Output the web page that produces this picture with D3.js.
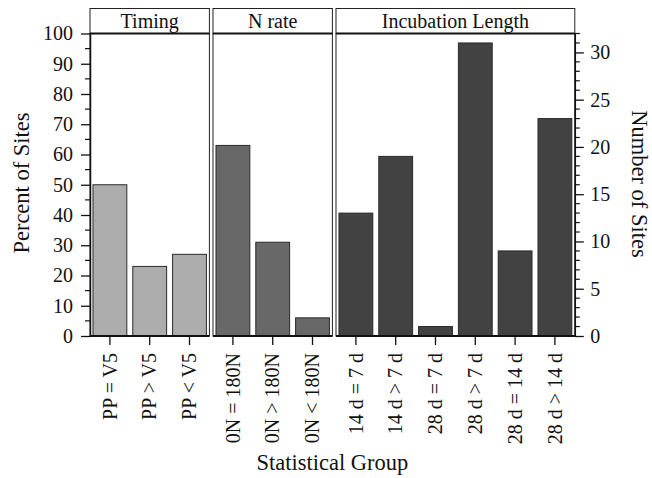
<!DOCTYPE html>
<html>
<head>
<meta charset="utf-8">
<script src="https://cdn.jsdelivr.net/npm/d3@7"></script>
<style>
  body { margin: 0; background: #fff; }
  svg text { font-family: "Liberation Serif", "Times New Roman", serif; fill: #111; }
</style>
</head>
<body>
<div id="chart"></div>
<script>
// panel names and their categories
var panels = ["Timing", "N rate", "Incubation Length"];
var timingCats = ["PP = V5", "PP > V5", "PP < V5"];
var nrateCats = ["0N = 180N", "0N > 180N", "0N < 180N"];
var incubCats = ["14 d = 7 d", "14 d > 7 d", "28 d = 7 d", "28 d > 7 d", "28 d = 14 d", "28 d > 14 d"];
// values: percent of sites for Timing / N rate, number of sites for incubation
var timingPct = [50, 23, 27];
var nratePct = [63, 31, 6];
var incubCount = [13, 19, 1, 31, 9, 23];
var leftTicks = [0, 10, 20, 30, 40, 50, 60, 70, 80, 90, 100];
var rightTicks = [0, 5, 10, 15, 20, 25, 30];

var width = 652, height = 478;
var plotTop = 33.5, plotBottom = 336, plotLeft = 90;
var unit = 39.8, gap = 3.6;
var tickFont = 20, titleFont = 22.5;

var svg = d3.select("#chart").append("svg")
    .attr("width", width)
    .attr("height", height);

var yLeft = d3.scaleLinear().domain([0, 100]).range([plotBottom, plotTop]);
var yRight = d3.scaleLinear().domain([0, 32]).range([plotBottom, plotTop]);

var groups = [
    {name: panels[0], cats: timingCats, vals: timingPct, y: yLeft, fill: "#adadad"},
    {name: panels[1], cats: nrateCats, vals: nratePct, y: yLeft, fill: "#686868"},
    {name: panels[2], cats: incubCats, vals: incubCount, y: yRight, fill: "#424242"}
];

var x0 = plotLeft;
groups.forEach(function (g) {
    var w = g.cats.length * unit;
    g.x = d3.scaleBand().domain(g.cats).range([x0, x0 + w])
        .paddingInner(0.15).paddingOuter(0.075);
    g.x0 = x0;
    g.w = w;
    x0 += w + gap;
});
var plotRight = groups[2].x0 + groups[2].w;

groups.forEach(function (g) {
    var p = svg.append("g");
    // strip
    p.append("rect")
        .attr("x", g.x0).attr("y", 8.5)
        .attr("width", g.w).attr("height", plotTop - 8.5)
        .attr("fill", "#fff").attr("stroke", "#222").attr("stroke-width", 1);
    p.append("text")
        .attr("x", g.x0 + g.w / 2).attr("y", 27.5)
        .attr("text-anchor", "middle")
        .attr("font-size", tickFont)
        .text(g.name);
    // panel frame
    p.append("rect")
        .attr("x", g.x0).attr("y", plotTop)
        .attr("width", g.w).attr("height", plotBottom - plotTop)
        .attr("fill", "#fff").attr("stroke", "#222").attr("stroke-width", 1);
    p.append("line")
        .attr("x1", g.x0).attr("x2", g.x0 + g.w)
        .attr("y1", plotTop).attr("y2", plotTop)
        .attr("stroke", "#111").attr("stroke-width", 2);
    // bars
    p.selectAll("rect.bar")
        .data(g.vals)
        .enter().append("rect")
        .attr("class", "bar")
        .attr("x", function (d, i) { return g.x(g.cats[i]); })
        .attr("width", g.x.bandwidth())
        .attr("y", function (d) { return g.y(d); })
        .attr("height", function (d) { return plotBottom - g.y(d); })
        .attr("fill", g.fill)
        .attr("stroke", "#2a2a2a")
        .attr("stroke-width", 1);
    p.append("line")
        .attr("x1", g.x0).attr("x2", g.x0 + g.w)
        .attr("y1", plotBottom).attr("y2", plotBottom)
        .attr("stroke", "#111").attr("stroke-width", 2);
    // x axis
    var ax = p.append("g")
        .attr("transform", "translate(0," + plotBottom + ")")
        .call(d3.axisBottom(g.x).tickSize(9).tickPadding(8).tickSizeOuter(0));
    ax.select(".domain").remove();
    ax.selectAll(".tick line").attr("stroke", "#111").attr("stroke-width", 1.3);
    ax.selectAll(".tick text")
        .attr("font-size", tickFont)
        .attr("transform", "rotate(-90)")
        .attr("text-anchor", "end")
        .attr("x", -17)
        .attr("y", 0)
        .attr("dy", "0.33em");
});

// left axis
var la = svg.append("g")
    .attr("transform", "translate(" + plotLeft + ",0)")
    .call(d3.axisLeft(yLeft).tickValues(leftTicks).tickSize(9).tickPadding(8).tickSizeOuter(0));
la.select(".domain").attr("stroke", "#111").attr("stroke-width", 1.5);
la.selectAll(".tick line").attr("stroke", "#111").attr("stroke-width", 1.3);
la.selectAll(".tick text").attr("font-size", tickFont);
la.selectAll("line.minor")
    .data(d3.range(5, 100, 10))
    .enter().append("line")
    .attr("class", "minor")
    .attr("x1", -5).attr("x2", 0)
    .attr("y1", function (d) { return yLeft(d); })
    .attr("y2", function (d) { return yLeft(d); })
    .attr("stroke", "#111").attr("stroke-width", 1.2);

// right axis
var ra = svg.append("g")
    .attr("transform", "translate(" + plotRight + ",0)")
    .call(d3.axisRight(yRight).tickValues(rightTicks).tickSize(9).tickPadding(6.5).tickSizeOuter(0));
ra.select(".domain").attr("stroke", "#111").attr("stroke-width", 1.5);
ra.selectAll(".tick line").attr("stroke", "#111").attr("stroke-width", 1.3);
ra.selectAll(".tick text").attr("font-size", tickFont);
ra.selectAll("line.minor")
    .data(d3.range(1, 33).filter(function (d) { return d % 5 !== 0; }))
    .enter().append("line")
    .attr("class", "minor")
    .attr("x1", 0).attr("x2", 5)
    .attr("y1", function (d) { return yRight(d); })
    .attr("y2", function (d) { return yRight(d); })
    .attr("stroke", "#111").attr("stroke-width", 1.2);

// titles
svg.append("text")
    .attr("transform", "translate(28.5,183) rotate(-90)")
    .attr("text-anchor", "middle")
    .attr("font-size", titleFont)
    .text("Percent of Sites");
svg.append("text")
    .attr("transform", "translate(632,184) rotate(90)")
    .attr("text-anchor", "middle")
    .attr("font-size", titleFont)
    .text("Number of Sites");
svg.append("text")
    .attr("x", (plotLeft + plotRight) / 2).attr("y", 470)
    .attr("text-anchor", "middle")
    .attr("font-size", titleFont)
    .text("Statistical Group");
</script>
</body>
</html>
